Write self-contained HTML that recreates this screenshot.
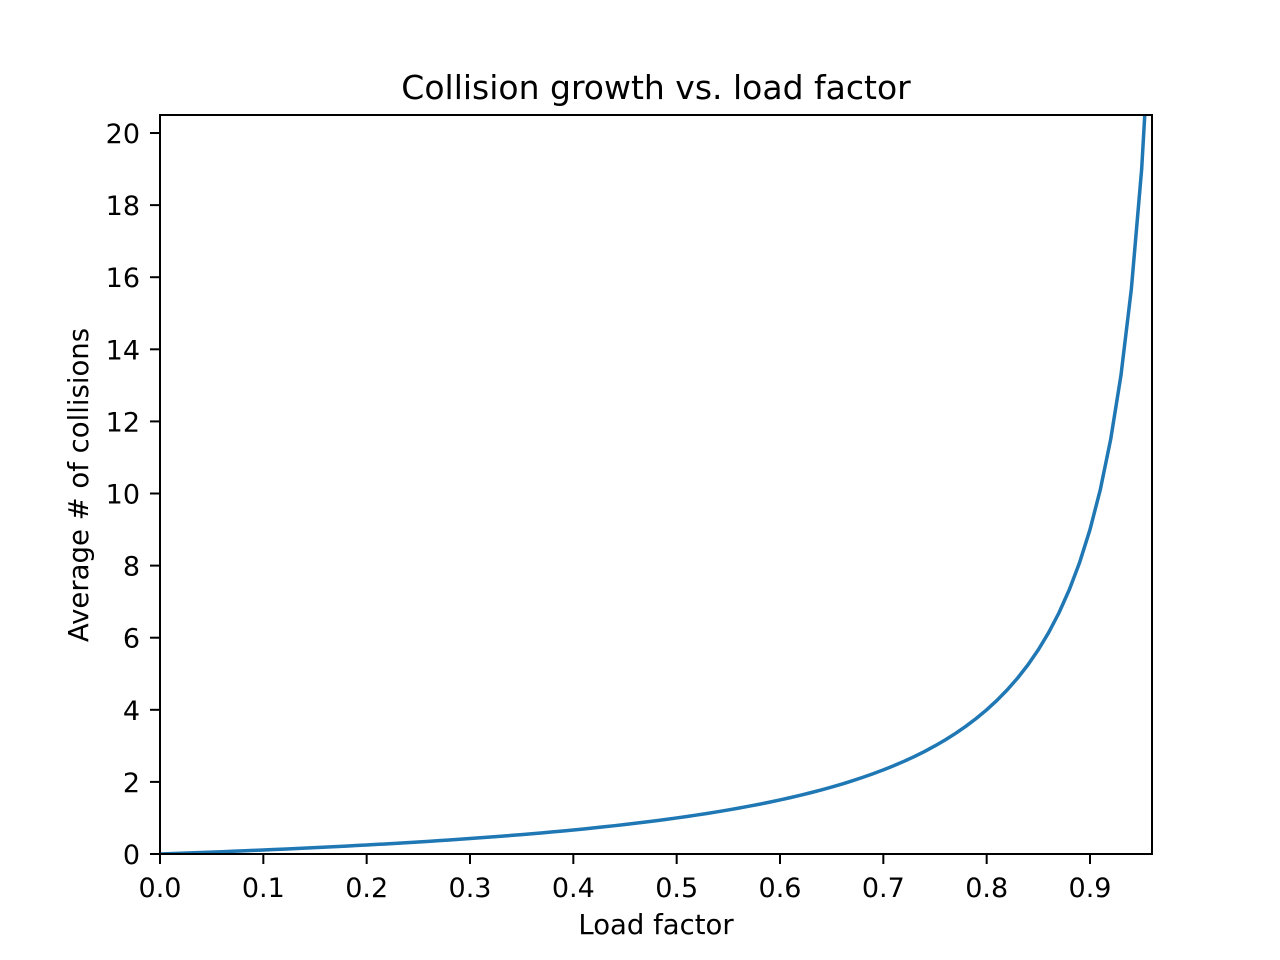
<!DOCTYPE html>
<html><head><meta charset="utf-8"><style>
html,body{margin:0;padding:0;background:#fff}
svg{display:block;font-family:"DejaVu Sans","Liberation Sans",sans-serif}
</style></head><body>
<svg id="chart" width="1280" height="960" viewBox="0 0 1280 960" xmlns="http://www.w3.org/2000/svg">
<defs><clipPath id="clip"><rect x="160" y="115" width="992" height="739"/></clipPath></defs>
<rect x="0" y="0" width="1280" height="960" fill="#fff"/>
<text x="656" y="99" text-anchor="middle" font-size="33">Collision growth vs. load factor</text>
<text x="656" y="934" text-anchor="middle" font-size="27.5">Load factor</text>
<text transform="translate(88,485) rotate(-90)" text-anchor="middle" font-size="27.5">Average # of collisions</text>
<g id="ticks"></g>
<g clip-path="url(#clip)"><path id="line" fill="none" stroke="#1f77b4" stroke-width="3.5" stroke-linejoin="round"/></g>
<rect x="160" y="115" width="992" height="739" fill="none" stroke="#000" stroke-width="2"/>
</svg>
<script>
const xs=[0,.01,.02,.03,.04,.05,.06,.07,.08,.09,.1,.11,.12,.13,.14,.15,.16,.17,.18,.19,.2,.21,.22,.23,.24,.25,.26,.27,.28,.29,.3,.31,.32,.33,.34,.35,.36,.37,.38,.39,.4,.41,.42,.43,.44,.45,.46,.47,.48,.49,.5,.51,.52,.53,.54,.55,.56,.57,.58,.59,.6,.61,.62,.63,.64,.65,.66,.67,.68,.69,.7,.71,.72,.73,.74,.75,.76,.77,.78,.79,.8,.81,.82,.83,.84,.85,.86,.87,.88,.89,.9,.91,.92,.93,.94,.95,.96];
const vals=[0,.0101,.0204,.0309,.0417,.0526,.0638,.0753,.087,.0989,.1111,.1236,.1364,.1494,.1628,.1765,.1905,.2048,.2195,.2346,.25,.2658,.2821,.2987,.3158,.3333,.3514,.3699,.3889,.4085,.4286,.4493,.4706,.4925,.5152,.5385,.5625,.5873,.6129,.6393,.6667,.6949,.7241,.7544,.7857,.8182,.8519,.8868,.9231,.9608,1,1.0408,1.0833,1.1277,1.1739,1.2222,1.2727,1.3256,1.381,1.439,1.5,1.5641,1.6316,1.7027,1.7778,1.8571,1.9412,2.0303,2.125,2.2258,2.3333,2.4483,2.5714,2.7037,2.8462,3,3.1667,3.3478,3.5455,3.7619,4,4.2632,4.5556,4.8824,5.25,5.6667,6.1429,6.6923,7.3333,8.0909,9,10.111,11.5,13.286,15.667,19,24];
const xTicks=[0,0.1,0.2,0.3,0.4,0.5,0.6,0.7,0.8,0.9];
const xTickLabels=["0.0","0.1","0.2","0.3","0.4","0.5","0.6","0.7","0.8","0.9"];
const yTicks=[0,2,4,6,8,10,12,14,16,18,20];
const yTickLabels=["0","2","4","6","8","10","12","14","16","18","20"];
const X0=160,X1=1152,Y0=854,Y1=115,XMAX=0.96,YMAX=20.5;
function sx(v){return X0+v/XMAX*(X1-X0);}
function sy(v){return Y0-v/YMAX*(Y0-Y1);}
const NS="http://www.w3.org/2000/svg";
const g=document.getElementById('ticks');
function mk(tag,attrs){const e=document.createElementNS(NS,tag);for(const k in attrs)e.setAttribute(k,attrs[k]);return e;}
xTicks.forEach((t,i)=>{
 const l=mk('line',{x1:sx(t),x2:sx(t),y1:Y0,y2:Y0+10,stroke:'#000','stroke-width':2});
 
 
 g.appendChild(l);
 const tx=mk('text',{x:sx(t),y:Y0+43,'text-anchor':'middle','font-size':27});
 
 
 tx.textContent=xTickLabels[i];g.appendChild(tx);
});
yTicks.forEach((t,i)=>{
 const l=mk('line',{x1:X0-10,x2:X0,y1:sy(t),y2:sy(t),stroke:'#000','stroke-width':2});
 
 
 g.appendChild(l);
 const tx=mk('text',{x:X0-20,y:sy(t)+10,'text-anchor':'end','font-size':27});
 
 
 tx.textContent=yTickLabels[i];g.appendChild(tx);
});
document.getElementById('line').setAttribute('d',xs.map((x,i)=>(i?'L':'M')+sx(x).toFixed(2)+' '+sy(vals[i]).toFixed(2)).join(' '));
</script>
</body></html>
